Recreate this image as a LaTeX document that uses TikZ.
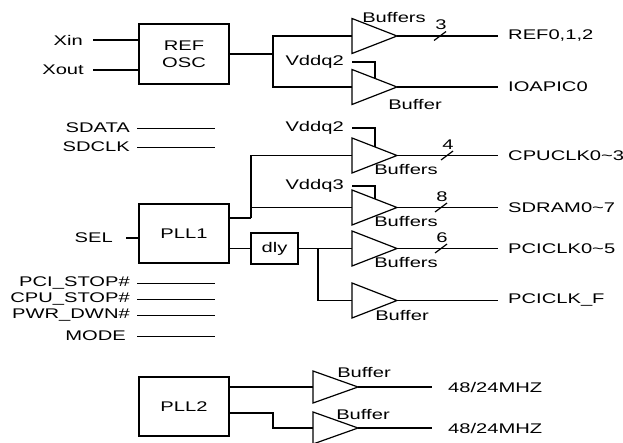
\documentclass[tikz,border=0pt]{standalone}
\usepackage{fontspec}
\setmainfont[FakeStretch=1.44]{Liberation Sans}
\begin{document}
\begin{tikzpicture}[x=1pt,y=-1pt,
  every node/.style={font=\fontsize{14}{17}\selectfont, inner sep=0pt},
  wire/.style={line width=1.2pt},
  trunk/.style={line width=1.7pt},
  thinwire/.style={line width=0.8pt},
  blk/.style={draw, line width=1.2pt, minimum width=90pt, minimum height=59pt, align=center},
  outlbl/.style={anchor=west, inner xsep=10pt},
  pics/buf/.style={code={
    \draw[wire] (0,-#1) -- (45,0) -- (0,#1) -- cycle;
    \coordinate (-in) at (0,0);
    \coordinate (-out) at (45,0);
    \coordinate (-vdd) at (23,{-#1*22/45});
  }},
  pics/buf/.default=17.5,
  pics/bus/.style={code={
    \draw[wire] (-6,4.5) -- (6,-4.5);
    \node at (1,-11) {#1};
  }}
]
\useasboundingbox (0,0) rectangle (623,443);

% ---------- REF OSC ----------
\node[blk, minimum height=60pt] (osc) at (184,54) {REF\\OSC};
\node[anchor=east, inner xsep=10pt] (xin) at (93,40) {Xin};
\node[anchor=east, inner xsep=9pt] (xout) at (93,70) {Xout};
\draw[wire] (xin.east) -- (xin.east -| osc.west);
\draw[wire] (xout.east) -- (xout.east -| osc.west);

\pic (b1) at (352,36) {buf};
\pic (b2) at (352,87) {buf};
\coordinate (j1) at (273,54);
\draw[wire] (osc.east) -- (j1);
\draw[trunk] (b1-in) -| (j1);
\draw[trunk] (b2-in) -| (j1);
\node[anchor=south] (lb1) at (394,23) {Buffers};
\node (lb2) at (415,105) {Buffer};
\node[anchor=east] (v1) at (344,62) {Vddq2};
\coordinate (v1e) at (352,62);
\draw[wire] (v1e) -| (b2-vdd);

\node[outlbl] (ref) at (498,36) {REF0,1,2};
\node[outlbl] (ioa) at (498,87) {IOAPIC0};
\draw[wire] (b1-out) -- (ref.west);
\draw[wire] (b2-out) -- (ioa.west);
\pic at (440,36) {bus=3};

% ---------- control inputs ----------
\node[anchor=east, inner xsep=7pt] (sdata) at (137,128) {SDATA};
\node[anchor=east, inner xsep=7pt] (sdclk) at (137,147) {SDCLK};
\coordinate (sdatae) at (215,128);
\coordinate (sdclke) at (215,147);
\draw[thinwire] (sdata.east) -- (sdatae);
\draw[thinwire] (sdclk.east) -- (sdclke);

\node[anchor=east, inner xsep=7pt] (pcis) at (137,283) {PCI\_STOP\#};
\node[anchor=east, inner xsep=7pt] (cpus) at (137,299) {CPU\_STOP\#};
\node[anchor=east, inner xsep=7pt] (pwrd) at (137,315) {PWR\_DWN\#};
\node[anchor=east, inner xsep=11pt] (mode) at (137,336) {MODE};
\coordinate (pcise) at (215,283);
\coordinate (cpuse) at (215,299);
\coordinate (pwrde) at (215,315);
\coordinate (modee) at (215,336);
\draw[thinwire] (pcis.east) -- (pcise);
\draw[thinwire] (cpus.east) -- (cpuse);
\draw[thinwire] (pwrd.east) -- (pwrde);
\draw[thinwire] (mode.east) -- (modee);

% ---------- PLL1 ----------
\node[blk] (pll1) at (184,233.5) {PLL1};
\node[anchor=east, inner xsep=13pt] (sel) at (126,238) {SEL};
\draw[wire] (sel.east) -- (sel.east -| pll1.west);

\pic (b3) at (352,155.5) {buf};
\pic (b4) at (352,207.5) {buf};
\coordinate (j2) at (251,218);
\draw[wire] (j2 -| pll1.east) -- (j2);
\draw[trunk] (b3-in) -| (j2);
\draw[wire] (b4-in) -| (j2);

\node[anchor=east] (v2) at (344,128) {Vddq2};
\coordinate (v2e) at (352,128);
\draw[wire] (v2e) -| (b3-vdd);
\node[anchor=east] (v3) at (344,186) {Vddq3};
\coordinate (v3e) at (352,186);
\draw[wire] (v3e) -| (b4-vdd);

\node (lb3) at (406,170) {Buffers};
\node (lb4) at (406,222) {Buffers};
\node[outlbl] (cpu) at (498,155.5) {CPUCLK0\textasciitilde 3};
\node[outlbl] (sdr) at (498,207.5) {SDRAM0\textasciitilde 7};
\draw[wire] (b3-out) -- (cpu.west);
\draw[wire] (b4-out) -- (sdr.west);
\pic at (447,155.5) {bus=4};
\pic at (441,207.5) {bus=8};

% ---------- dly / PCI ----------
\node[draw, line width=1.2pt, minimum width=47pt, minimum height=31pt] (dly) at (274.5,248.5) {dly};
\draw[wire] (dly.west -| pll1.east) -- (dly.west);

\pic (b5) at (352,248.5) {buf};
\pic (b6) at (352,300.5) {buf};
\coordinate (j3) at (318,248.5);
\draw[wire] (dly.east) -- (b5-in);
\draw[trunk] (b6-in) -| (j3);

\node (lb5) at (406,263) {Buffers};
\node (lb6) at (402,316) {Buffer};
\node[outlbl] (pci) at (498,248.5) {PCICLK0\textasciitilde 5};
\node[outlbl] (pcif) at (498,300.5) {PCICLK\_F};
\draw[wire] (b5-out) -- (pci.west);
\draw[wire] (b6-out) -- (pcif.west);
\pic at (441,248.5) {bus=6};

% ---------- PLL2 ----------
\node[blk] (pll2) at (184,406.5) {PLL2};
\pic (b7) at (313,387) {buf=16};
\pic (b8) at (313,428) {buf=16};
\draw[wire] (b7-in -| pll2.east) -- (b7-in);
\coordinate (j4) at (273,413);
\draw[wire] (j4 -| pll2.east) -- (j4) |- (b8-in);
\node (lb7) at (364,373) {Buffer};
\node (lb8) at (363,415) {Buffer};
\node[outlbl, inner xsep=16pt] (m1) at (432,387) {48/24MHZ};
\node[outlbl, inner xsep=16pt] (m2) at (432,428) {48/24MHZ};
\draw[wire] (b7-out) -- (m1.west);
\draw[wire] (b8-out) -- (m2.west);
\end{tikzpicture}
\end{document}
